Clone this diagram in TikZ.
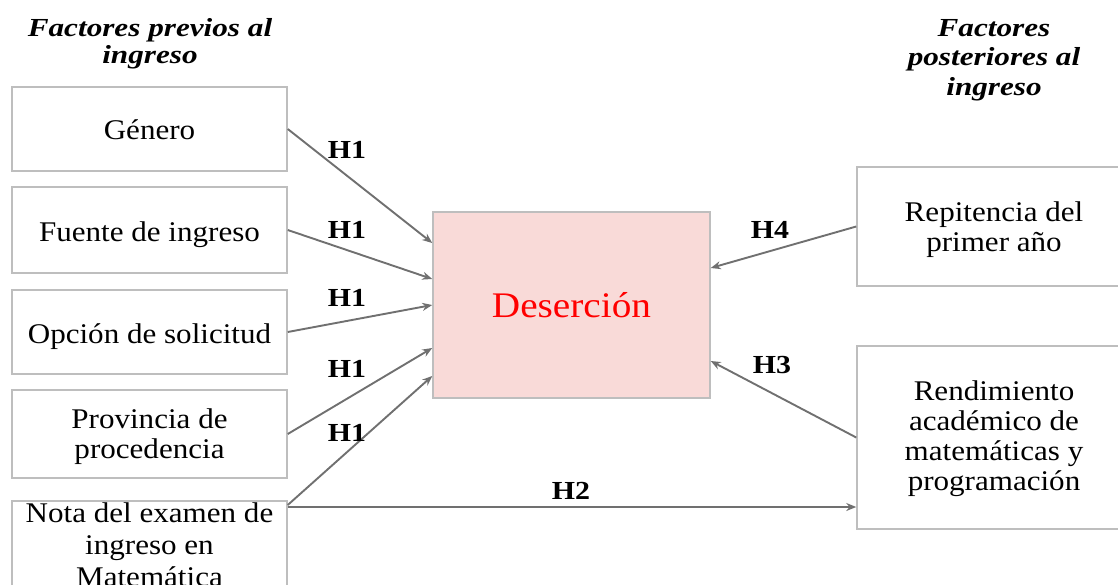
\documentclass[tikz,border=0pt]{standalone}
\usepackage{fontspec}
\setmainfont[FakeStretch=1.09]{Liberation Serif}
\newfontfamily\hdrfont[FakeStretch=1.2]{Liberation Serif}
\newfontfamily\hlabfont[FakeStretch=1.15]{Liberation Serif}
\usetikzlibrary{arrows.meta}
\definecolor{boxgray}{RGB}{190,190,190}
\definecolor{arrgray}{RGB}{112,112,112}
\definecolor{despink}{RGB}{249,218,216}
\begin{document}
\begin{tikzpicture}[x=1pt,y=-1pt,
  fbox/.style={draw=boxgray, line width=1.5pt, minimum width=275pt, inner sep=0pt},
  ftext/.style={align=center, inner sep=0pt, font=\fontsize{28.5}{30}\selectfont},
  arr/.style={draw=arrgray, line width=1.9pt, -{Stealth[length=10pt,width=8pt]}},
  hlab/.style={font=\hlabfont\bfseries\fontsize{26}{28}\selectfont},
  hdr/.style={font=\hdrfont\bfseries\itshape\fontsize{26}{27.5}\selectfont, align=center}]
\useasboundingbox (0,0) rectangle (1118,585);
\clip (0,0) rectangle (1118,585);

% headers
\node[hdr] (hl) at (150,44) {Factores previos al\\ingreso};
\node[hdr, font=\hdrfont\bfseries\itshape\fontsize{26}{29.5}\selectfont] (hr) at (994,60) {Factores\\posteriores al\\ingreso};

% left boxes
\node[fbox, minimum height=84pt] (genero) at (149.5,129) {};
\node[ftext, yshift=-1pt] (generoT) at (genero.center) {Género};
\node[fbox, minimum height=86pt] (fuente) at (149.5,230) {};
\node[ftext, yshift=-4.5pt] (fuenteT) at (fuente.center) {Fuente de ingreso};
\node[fbox, minimum height=84pt] (opcion) at (149.5,332) {};
\node[ftext, yshift=-4.5pt] (opcionT) at (opcion.center) {Opción de solicitud};
\node[fbox, minimum height=88pt] (prov) at (149.5,434) {};
\node[ftext, yshift=-2.5pt] (provT) at (prov.center) {Provincia de\\procedencia};
\node[fbox, minimum height=110pt, anchor=north] (nota) at (149.5,500) {};
\node[ftext, anchor=north, font=\fontsize{28.5}{32}\selectfont] (notaT) at ([yshift=-3pt]nota.north) {Nota del examen de\\ingreso en\\Matemática};

% central box
\node[draw=boxgray, fill=despink, line width=1.5pt, minimum width=277pt, minimum height=186pt,
  text=red, font=\fontsize{36}{40}\selectfont] (des) at (571.5,305) {Deserción};

% right boxes
\node[fbox, minimum width=274pt, minimum height=119pt] (rep) at (994,226.5) {};
\node[ftext, yshift=-3.5pt] (repT) at (rep.center) {Repitencia del\\primer año};
\node[fbox, minimum width=274pt, minimum height=183pt] (rend) at (994,437.5) {};
\node[ftext, yshift=-1pt] (rendT) at (rend.center) {Rendimiento\\académico de\\matemáticas y\\programación};

% arrows
\draw[arr] (genero.east) -- ([yshift=62pt]des.west);
\draw[arr] (fuente.east) -- ([yshift=26pt]des.west);
\draw[arr] (opcion.east) -- (des.west);
\draw[arr] (prov.east) -- ([yshift=-43pt]des.west);
\coordinate (n1) at ([yshift=-5pt]nota.north east);
\draw[arr] (n1) -- ([yshift=-71pt]des.west);
\coordinate (n2) at ([yshift=-7pt]nota.north east);
\draw[arr] (n2) -- (n2 -| rend.west);
\draw[arr] (rep.west) -- ([yshift=37pt]des.east);
\draw[arr] (rend.west) -- ([yshift=-56pt]des.east);

% labels
\node[hlab] (h1a) at (347,150) {H1};
\node[hlab] (h1b) at (347,230) {H1};
\node[hlab] (h1c) at (347,298) {H1};
\node[hlab] (h1d) at (347,368.5) {H1};
\node[hlab] (h1e) at (347,433) {H1};
\node[hlab] (h4) at (770,230) {H4};
\node[hlab] (h3) at (772,365) {H3};
\node[hlab] (h2) at (571,491) {H2};
\end{tikzpicture}
\end{document}
